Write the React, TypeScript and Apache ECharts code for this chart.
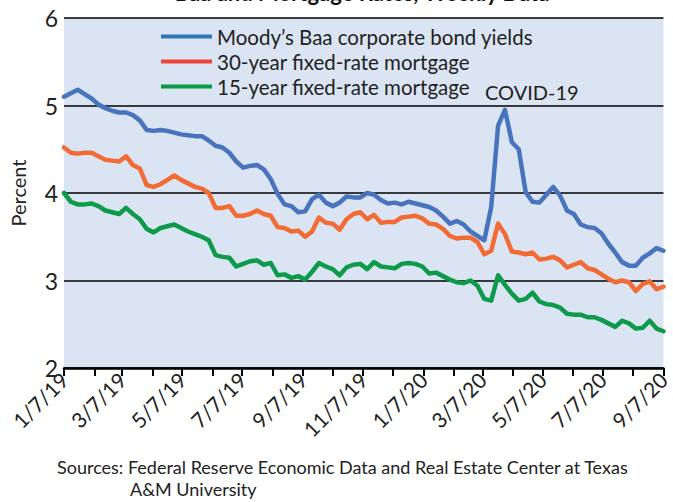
import React, { useEffect, useRef } from "react";
import * as echarts from "echarts";

// Weekly observations, Jan 7 2019 .. Sep 7 2020 (one value per week)
const BAA = [
  5.10, 5.14, 5.18, 5.13, 5.08, 5.01, 4.97, 4.94, 4.92, 4.92,
  4.89, 4.83, 4.72, 4.71, 4.72, 4.71, 4.69, 4.67, 4.66, 4.65,
  4.65, 4.60, 4.54, 4.52, 4.46, 4.36, 4.29, 4.31, 4.32, 4.27,
  4.16, 3.99, 3.87, 3.85, 3.78, 3.79, 3.93, 3.98, 3.89, 3.85,
  3.89, 3.96, 3.95, 3.95, 4.00, 3.98, 3.92, 3.88, 3.89, 3.87,
  3.90, 3.88, 3.86, 3.84, 3.80, 3.73, 3.65, 3.68, 3.64, 3.56,
  3.51, 3.46, 3.84, 4.77, 4.95, 4.58, 4.50, 4.01, 3.90, 3.89,
  3.98, 4.07, 3.97, 3.80, 3.76, 3.64, 3.61, 3.60, 3.54, 3.42,
  3.32, 3.21, 3.17, 3.17, 3.26, 3.31, 3.37, 3.34,
];
const MORTGAGE_30 = [
  4.52, 4.46, 4.45, 4.46, 4.46, 4.42, 4.38, 4.37, 4.36, 4.42,
  4.32, 4.28, 4.09, 4.07, 4.10, 4.15, 4.20, 4.15, 4.11, 4.07,
  4.05, 4.00, 3.83, 3.83, 3.85, 3.74, 3.74, 3.76, 3.80, 3.76,
  3.74, 3.61, 3.60, 3.56, 3.57, 3.50, 3.56, 3.72, 3.66, 3.65,
  3.58, 3.70, 3.76, 3.78, 3.70, 3.75, 3.66, 3.67, 3.67, 3.72,
  3.73, 3.74, 3.71, 3.65, 3.64, 3.59, 3.51, 3.48, 3.49, 3.49,
  3.44, 3.30, 3.34, 3.65, 3.53, 3.33, 3.32, 3.30, 3.32, 3.24,
  3.25, 3.27, 3.23, 3.15, 3.18, 3.21, 3.14, 3.12, 3.07, 3.02,
  2.98, 3.00, 2.98, 2.88, 2.96, 2.99, 2.90, 2.93,
];
const MORTGAGE_15 = [
  4.00, 3.90, 3.87, 3.87, 3.88, 3.85, 3.80, 3.78, 3.76, 3.83,
  3.76, 3.70, 3.59, 3.55, 3.60, 3.62, 3.64, 3.60, 3.56, 3.53,
  3.50, 3.46, 3.29, 3.27, 3.26, 3.16, 3.19, 3.22, 3.23, 3.18,
  3.20, 3.06, 3.07, 3.03, 3.05, 3.01, 3.10, 3.20, 3.16, 3.13,
  3.06, 3.15, 3.18, 3.19, 3.13, 3.21, 3.16, 3.15, 3.14, 3.19,
  3.20, 3.19, 3.16, 3.08, 3.09, 3.05, 3.01, 2.98, 2.97, 3.00,
  2.94, 2.79, 2.77, 3.06, 2.95, 2.85, 2.77, 2.79, 2.86, 2.76,
  2.73, 2.72, 2.69, 2.62, 2.61, 2.61, 2.58, 2.58, 2.55, 2.51,
  2.47, 2.54, 2.51, 2.45, 2.46, 2.54, 2.45, 2.42,
];

// days since 1/7/19 of each monthly tick (the 7th of each month)
const MONTH_TICKS = [0, 31, 59, 90, 120, 151, 181, 212, 243, 273, 304, 334, 365, 396, 425, 456, 486, 517, 547, 578, 609];
const LABEL_TICKS = [0, 59, 120, 181, 243, 304, 365, 425, 486, 547, 609];
const TICK_LABELS = ["1/7/19", "3/7/19", "5/7/19", "7/7/19", "9/7/19", "11/7/19", "1/7/20", "3/7/20", "5/7/20", "7/7/20", "9/7/20"];

const SERIES_NAMES = ["Moody\u2019s Baa corporate bond yields", "30-year fixed-rate mortgage", "15-year fixed-rate mortgage"];
const COLORS = ["#4873BD", "#F26A34", "#0E9A4B"];
const LEGEND_COLORS = ["#2F74B8", "#EF4439", "#0A9A48"];

const FONT = "Lato";

export default function App() {
  const ref = useRef<HTMLDivElement>(null);
  useEffect(() => {
    if (!ref.current) return;
    const chart = echarts.init(ref.current, undefined, { renderer: "svg" });
    const toPairs = (arr: number[]) => arr.map((v, i) => [i * 7, v]);
    const datasets = [BAA, MORTGAGE_30, MORTGAGE_15];
    chart.setOption({
      animation: false,
      backgroundColor: "#ffffff",
      textStyle: { fontFamily: FONT },
      grid: {
        left: 58,
        right: 6,
        top: 18,
        bottom: 134,
        show: true,
        backgroundColor: "#DAE4F3",
        borderWidth: 0,
      },
      legend: {
        orient: "vertical",
        left: 156,
        top: 21,
        icon: "rect",
        itemWidth: 51,
        itemHeight: 4,
        itemGap: 4,
        data: SERIES_NAMES.map((n, i) => ({ name: n, itemStyle: { color: LEGEND_COLORS[i] } })),
        textStyle: { fontFamily: FONT, fontSize: 20.5, color: "#222", lineHeight: 20 },
      },
      xAxis: {
        type: "value",
        min: 0,
        max: 609,
        axisLine: { show: true, lineStyle: { color: "#000", width: 2.5 } },
        axisTick: {
          show: true,
          customValues: MONTH_TICKS,
          length: 8,
          lineStyle: { color: "#000", width: 2 },
        },
        axisLabel: {
          customValues: LABEL_TICKS,
          rotate: 45,
          margin: 8,
          fontFamily: FONT,
          fontSize: 21,
          color: "#222",
          formatter: (v: number) => TICK_LABELS[LABEL_TICKS.indexOf(v)] ?? "",
        },
        splitLine: { show: false },
      },
      yAxis: {
        type: "value",
        min: 2,
        max: 6,
        interval: 1,
        name: "Percent",
        nameLocation: "middle",
        nameRotate: 90,
        nameGap: 36,
        nameTextStyle: { fontFamily: FONT, fontSize: 20, color: "#222" },
        axisLine: { show: false },
        axisTick: { show: false },
        axisLabel: { fontFamily: FONT, fontSize: 23, color: "#222", margin: 6 },
        splitLine: { show: true, lineStyle: { color: "#000", width: 1.6 } },
      },
      series: datasets.map((d, i) => ({
        name: SERIES_NAMES[i],
        type: "line",
        data: toPairs(d),
        symbol: "none",
        color: COLORS[i],
        lineStyle: { color: COLORS[i], width: 4.5, join: "round", cap: "round" },
        z: 3 - i,
      })),
      graphic: [
        {
          type: "text",
          x: 362,
          y: -19,
          style: {
            text: "Baa and Mortgage Rates, Weekly Data",
            fontFamily: FONT,
            fontWeight: "bold",
            fontSize: 22,
            fill: "#111",
            align: "center",
          },
        },
        {
          type: "text",
          x: 485,
          y: 82,
          style: { text: "COVID-19", fontFamily: FONT, fontSize: 20, fill: "#222" },
        },
        {
          type: "text",
          x: 57,
          y: 458,
          style: {
            text: "Sources: Federal Reserve Economic Data and Real Estate Center at Texas",
            fontFamily: FONT,
            fontSize: 18,
            fill: "#222",
          },
        },
        {
          type: "text",
          x: 130,
          y: 480,
          style: { text: "A&M University", fontFamily: FONT, fontSize: 18, fill: "#222" },
        },
      ],
    });
    return () => chart.dispose();
  }, []);
  return (
    <div
      ref={ref}
      style={{ position: "absolute", left: 0, top: 0, width: 673, height: 502 }}
    />
  );
}
